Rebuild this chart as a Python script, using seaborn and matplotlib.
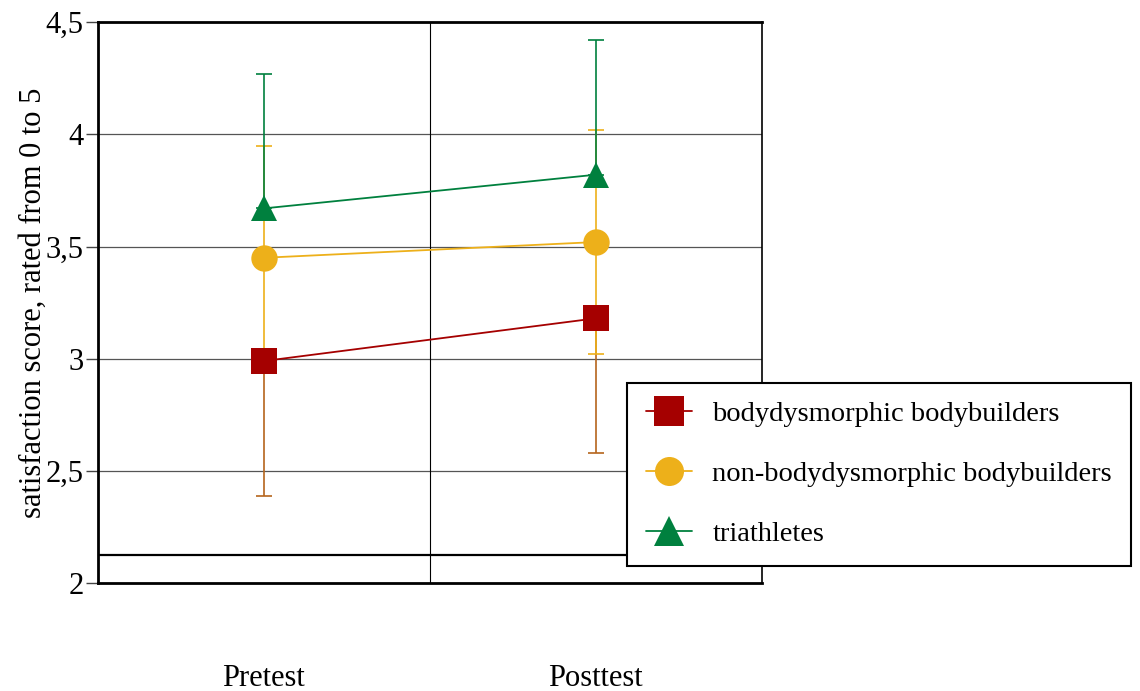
import numpy as np
import pandas as pd
import seaborn as sns
import matplotlib.pyplot as plt

# values
phases = ['Pretest', 'Posttest']
groups = ['bodydysmorphic bodybuilders', 'non-bodydysmorphic bodybuilders', 'triathletes']
means_bdd = [2.99, 3.18]
means_nonbdd = [3.45, 3.52]
means_tri = [3.67, 3.82]
# half error bars (lower, upper); only the visible parts
err_low_bdd = [0.60, 0.60]
err_up_bdd = [0.0, 0.0]
err_low_nonbdd = [0.50, 0.50]
err_up_nonbdd = [0.50, 0.50]
err_low_tri = [0.0, 0.0]
err_up_tri = [0.60, 0.60]

colors = ['#A50000', '#EDB01A', '#00803E']
err_colors = ['#B5651D', '#EDB01A', '#00803E']
markers = ['s', 'o', '^']

sns.set_style('white')
plt.rcParams['font.family'] = ['Liberation Serif', 'DejaVu Serif']
plt.rcParams['text.color'] = 'black'
plt.rcParams['axes.labelcolor'] = 'black'
plt.rcParams['xtick.color'] = 'black'
plt.rcParams['ytick.color'] = 'black'

df = pd.DataFrame({
    'phase': phases * 3,
    'score': means_bdd + means_nonbdd + means_tri,
    'group': [g for g in groups for _ in phases],
})
errs = {
    groups[0]: (err_low_bdd, err_up_bdd),
    groups[1]: (err_low_nonbdd, err_up_nonbdd),
    groups[2]: (err_low_tri, err_up_tri),
}

fig = plt.figure(figsize=(11.4, 6.91), dpi=100)
ax = fig.add_axes([0.086, 0.156, 0.582, 0.812])

xpos = np.arange(len(phases))
# error bars first
for g, ec in zip(groups, err_colors):
    sub = df[df['group'] == g]
    lo, up = errs[g]
    for i in range(len(phases)):
        if lo[i] > 0:
            ax.errorbar(xpos[i], sub['score'].values[i], yerr=[[lo[i]], [0]], fmt='none',
                        ecolor=ec, elinewidth=1.2, capsize=6, capthick=1.2, zorder=2)
        if up[i] > 0:
            ax.errorbar(xpos[i], sub['score'].values[i], yerr=[[0], [up[i]]], fmt='none',
                        ecolor=ec, elinewidth=1.2, capsize=6, capthick=1.2, zorder=2)

for g, c, m in zip(groups, colors, markers):
    sub = df[df['group'] == g].copy()
    sub['x'] = xpos
    sns.lineplot(data=sub, x='x', y='score', color=c, marker=m, markersize=19,
                 markeredgewidth=0, linewidth=1.3, label=g, ax=ax, zorder=3)

ax.set_xlim(-0.5, 1.5)
ax.set_ylim(2, 4.5)
ax.set_yticks([2, 2.5, 3, 3.5, 4, 4.5])
ax.set_yticklabels(['2', '2,5', '3', '3,5', '4', '4,5'], fontsize=22)
ax.set_xticks(xpos)
ax.set_xticklabels(phases, fontsize=22)
ax.tick_params(axis='x', length=0, pad=58)
ax.tick_params(axis='y', length=9, width=1, direction='out', left=True, pad=1.5, color='#444444')
ax.set_xlabel('')
ax.set_ylabel('satisfaction score, rated from 0 to 5', fontsize=22, labelpad=-2)

for yv in [2.5, 3, 3.5, 4]:
    ax.axhline(yv, color='#555555', linewidth=0.9, zorder=1)
ax.axvline(0.5, color='black', linewidth=0.8, zorder=1)
ax.axhline(2.125, color='black', linewidth=1.6, zorder=1)

for side in ['left', 'top', 'bottom']:
    ax.spines[side].set_linewidth(2)
    ax.spines[side].set_color('black')
ax.spines['right'].set_linewidth(1.2)
ax.spines['right'].set_color('black')

leg = ax.legend(loc='upper left', bbox_to_anchor=(0.55, 0.446), bbox_transform=fig.transFigure,
                fontsize=20.5, frameon=True, fancybox=False, framealpha=1, edgecolor='black',
                handlelength=1.65, labelspacing=1.2, borderpad=0.65, borderaxespad=0,
                handletextpad=0.7, markerscale=1.1)
leg.get_frame().set_linewidth(1.5)

fig.savefig('out.png', dpi=100)
